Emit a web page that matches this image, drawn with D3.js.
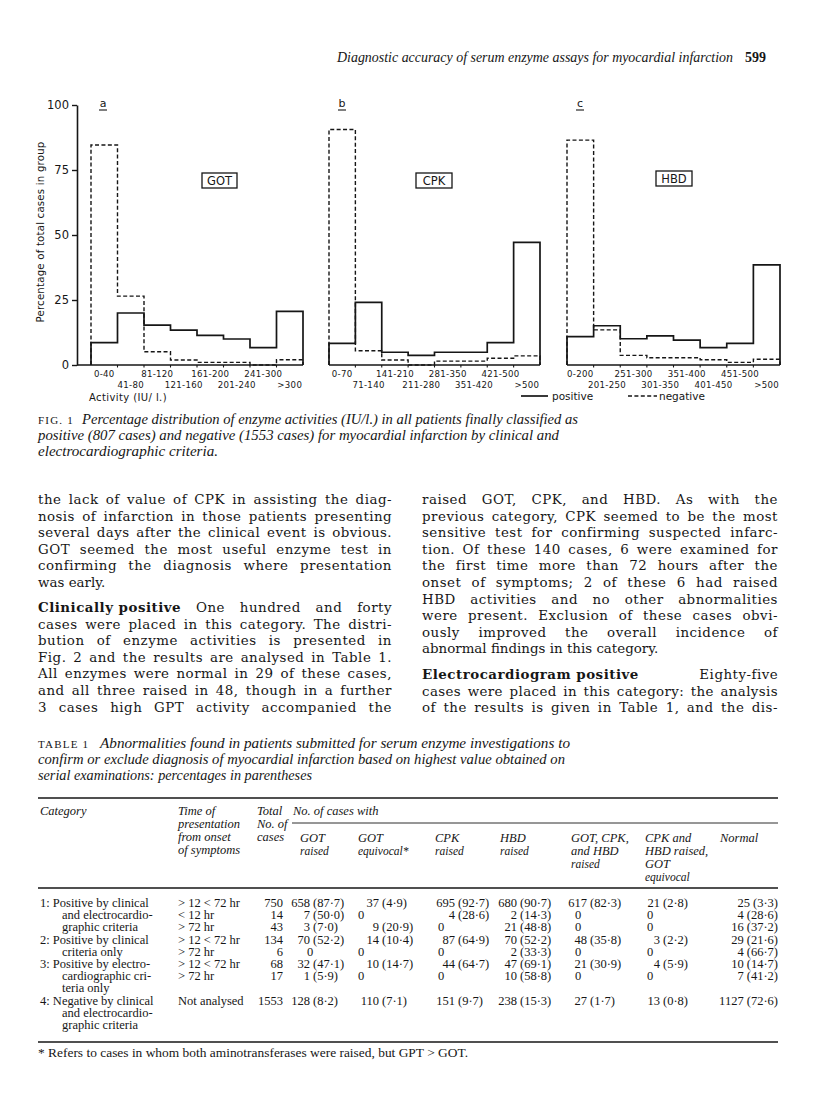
<!DOCTYPE html>
<html><head><meta charset="utf-8">
<script src="https://cdn.jsdelivr.net/npm/d3@7"></script>
<style>
html,body{margin:0;padding:0;background:#fff;}
svg{display:block;}
</style></head>
<body>
<script>
// ---------------- DATA ----------------
const gotBins = ["0-40","41-80","81-120","121-160","161-200","201-240","241-300",">300"];
const gotPositive = [8.6, 20.0, 15.3, 13.4, 11.4, 10.0, 6.7, 20.6];
const gotNegative = [84.6, 26.5, 5.1, 1.9, 1.0, 1.0, 0, 2.0];

const cpkBins = ["0-70","71-140","141-210","211-280","281-350","351-420","421-500",">500"];
const cpkPositive = [8.3, 24.1, 4.9, 3.7, 4.9, 4.9, 8.6, 47.2];
const cpkNegative = [90.6, 5.5, 1.9, 0, 1.5, 1.5, 2.6, 3.5];

const hbdBins = ["0-200","201-250","251-300","301-350","351-400","401-450","451-500",">500"];
const hbdPositive = [10.9, 15.1, 10.1, 11.2, 9.6, 6.7, 8.3, 38.5];
const hbdNegative = [86.5, 13.5, 3.7, 2.8, 2.8, 2.0, 1.0, 2.2];

const yTicks = [0, 25, 50, 75, 100];
const panelNames = ["GOT", "CPK", "HBD"];
const panelLetters = ["a", "b", "c"];

// Table 1
const tableColumns = ["GOT raised","GOT equivocal*","CPK raised","HBD raised","GOT, CPK, and HBD raised","CPK and HBD raised, GOT equivocal","Normal"];
const tableCategories = [
  ["1: Positive by clinical","and electrocardio-","graphic criteria"],
  ["2: Positive by clinical","criteria only"],
  ["3: Positive by electro-","cardiographic cri-","teria only"],
  ["4: Negative by clinical","and electrocardio-","graphic criteria"]
];
const tableTimes = [["> 12 < 72 hr","< 12 hr","> 72 hr"],["> 12 < 72 hr","> 72 hr"],["> 12 < 72 hr","> 72 hr"],["Not analysed"]];
const tableTotals = [[750,14,43],[134,6],[68,17],[1553]];
// each cell: [count, percent] or 0
const tableCells = [
  [
    [[658,"87·7"],[37,"4·9"],[695,"92·7"],[680,"90·7"],[617,"82·3"],[21,"2·8"],[25,"3·3"]],
    [[7,"50·0"],0,[4,"28·6"],[2,"14·3"],0,0,[4,"28·6"]],
    [[3,"7·0"],[9,"20·9"],0,[21,"48·8"],0,0,[16,"37·2"]]
  ],
  [
    [[70,"52·2"],[14,"10·4"],[87,"64·9"],[70,"52·2"],[48,"35·8"],[3,"2·2"],[29,"21·6"]],
    [0,0,0,[2,"33·3"],0,0,[4,"66·7"]]
  ],
  [
    [[32,"47·1"],[10,"14·7"],[44,"64·7"],[47,"69·1"],[21,"30·9"],[4,"5·9"],[10,"14·7"]],
    [[1,"5·9"],0,0,[10,"58·8"],0,0,[7,"41·2"]]
  ],
  [
    [[128,"8·2"],[110,"7·1"],[151,"9·7"],[238,"15·3"],[27,"1·7"],[13,"0·8"],[1127,"72·6"]]
  ]
];

// Text
const headerText = "Diagnostic accuracy of serum enzyme assays for myocardial infarction";
const pageNumber = "599";
const figCaption = [
  "Percentage distribution of enzyme activities (IU/l.) in all patients finally classified as",
  "positive (807 cases) and negative (1553 cases) for myocardial infarction by clinical and",
  "electrocardiographic criteria."
];
const leftColumn = [
  ["the lack of value of CPK in assisting the diag-", 0],
  ["nosis of infarction in those patients presenting", 0],
  ["several days after the clinical event is obvious.", 0],
  ["GOT seemed the most useful enzyme test in", 0],
  ["confirming the diagnosis where presentation", 0],
  ["was early.", 1],
  ["**Clinically positive** One hundred and forty", 0],
  ["cases were placed in this category. The distri-", 0],
  ["bution of enzyme activities is presented in", 0],
  ["Fig. 2 and the results are analysed in Table 1.", 0],
  ["All enzymes were normal in 29 of these cases,", 0],
  ["and all three raised in 48, though in a further", 0],
  ["3 cases high GPT activity accompanied the", 0]
];
const rightColumn = [
  ["raised GOT, CPK, and HBD. As with the", 0],
  ["previous category, CPK seemed to be the most", 0],
  ["sensitive test for confirming suspected infarc-", 0],
  ["tion. Of these 140 cases, 6 were examined for", 0],
  ["the first time more than 72 hours after the", 0],
  ["onset of symptoms; 2 of these 6 had raised", 0],
  ["HBD activities and no other abnormalities", 0],
  ["were present. Exclusion of these cases obvi-", 0],
  ["ously improved the overall incidence of", 0],
  ["abnormal findings in this category.", 1],
  ["**Electrocardiogram positive** Eighty-five", 0],
  ["cases were placed in this category: the analysis", 0],
  ["of the results is given in Table 1, and the dis-", 0]
];
const tableCaption = [
  "Abnormalities found in patients submitted for serum enzyme investigations to",
  "confirm or exclude diagnosis of myocardial infarction based on highest value obtained on",
  "serial examinations: percentages in parentheses"
];
const footnote = "* Refers to cases in whom both aminotransferases were raised, but GPT > GOT.";

// ---------------- DRAW ----------------
const W = 816, H = 1116;
const INK = "#161616";
const SERIF = "'Liberation Serif', 'Times New Roman', serif";
const BODYFONT = "'DejaVu Serif', 'Liberation Serif', serif";
const SANS = "'DejaVu Sans', Verdana, sans-serif";

const svg = d3.select("body").append("svg").attr("width", W).attr("height", H);
svg.append("rect").attr("width", W).attr("height", H).attr("fill", "#fff");

// Header
svg.append("text").attr("x", 337).attr("y", 62).attr("font-family", SERIF).attr("font-style","italic")
  .attr("font-size", 14).attr("fill", INK).attr("textLength", 396).attr("lengthAdjust","spacingAndGlyphs").text(headerText);
svg.append("text").attr("x", 745).attr("y", 62).attr("font-family", SERIF).attr("font-weight","bold")
  .attr("font-size", 14).attr("fill", INK).text(pageNumber);

// Chart
const y = d3.scaleLinear().domain([0, 100]).range([365, 105]);
const panels = [
  {bins: gotBins, pos: gotPositive, neg: gotNegative, x0: 91, x1: 303, base0: 77, letterX: 103, box: [202, 173, 35, 15]},
  {bins: cpkBins, pos: cpkPositive, neg: cpkNegative, x0: 329, x1: 540, base0: 329, letterX: 342, box: [416, 173, 36, 15]},
  {bins: hbdBins, pos: hbdPositive, neg: hbdNegative, x0: 567, x1: 780, base0: 567, letterX: 580, box: [656, 171, 36, 15]}
];

const stepLine = d3.line().x(d => d[0]).y(d => d[1]).curve(d3.curveStepAfter);

panels.forEach((p, pi) => {
  const g = svg.append("g");
  const x = d3.scaleLinear().domain([0, p.bins.length]).range([p.x0, p.x1]);
  const n = p.bins.length;
  function pts(vals) {
    const a = [[x(0), y(0)]];
    vals.forEach((v, i) => a.push([x(i), y(v)]));
    a.push([x(n), y(vals[n - 1])]);
    a.push([x(n), y(0)]);
    return a;
  }
  g.append("line").attr("x1", p.base0).attr("x2", x(n)).attr("y1", y(0)).attr("y2", y(0))
    .attr("stroke", INK).attr("stroke-width", 1.6);
  d3.range(1, n).forEach(i => {
    g.append("line").attr("x1", x(i)).attr("x2", x(i)).attr("y1", y(0)).attr("y2", y(0) + 2.5)
      .attr("stroke", INK).attr("stroke-width", 1.1);
  });
  g.append("path").attr("d", stepLine(pts(p.neg))).attr("fill", "none").attr("stroke", INK)
    .attr("stroke-width", 1.4).attr("stroke-dasharray", "4,2.4");
  g.append("path").attr("d", stepLine(pts(p.pos))).attr("fill", "none").attr("stroke", INK)
    .attr("stroke-width", 1.7);
  p.bins.forEach((b, i) => {
    g.append("text").attr("x", (x(i) + x(i + 1)) / 2).attr("y", i % 2 === 0 ? 377 : 388)
      .attr("text-anchor", "middle").attr("font-family", SANS).attr("font-size", 8.6)
      .attr("letter-spacing", 0.3).attr("fill", INK).text(b);
  });
  g.append("text").attr("x", p.letterX).attr("y", 107).attr("text-anchor", "middle")
    .attr("font-family", SANS).attr("font-size", 11).attr("fill", INK).text(panelLetters[pi]);
  g.append("line").attr("x1", p.letterX - 4).attr("x2", p.letterX + 4).attr("y1", 110).attr("y2", 110)
    .attr("stroke", INK).attr("stroke-width", 1.1);
  g.append("rect").attr("x", p.box[0]).attr("y", p.box[1]).attr("width", p.box[2]).attr("height", p.box[3])
    .attr("fill", "none").attr("stroke", INK).attr("stroke-width", 1.3);
  g.append("text").attr("x", p.box[0] + p.box[2] / 2).attr("y", p.box[1] + p.box[3] - 3.2).attr("text-anchor", "middle")
    .attr("font-family", SANS).attr("font-size", 11.5).attr("fill", INK).text(panelNames[pi]);
});

// Y axis (panel a)
const yAxis = d3.axisLeft(y).tickValues(yTicks).tickSize(5).tickSizeOuter(0).tickPadding(3);
const ya = svg.append("g").attr("transform", "translate(77,0)").call(yAxis);
ya.select(".domain").attr("stroke", INK).attr("stroke-width", 1.6);
ya.selectAll(".tick line").attr("stroke", INK).attr("stroke-width", 1.4);
ya.selectAll(".tick text").attr("font-family", SANS).attr("font-size", 11.5).attr("fill", INK);
svg.append("text").attr("transform", "translate(44,232) rotate(-90)").attr("text-anchor", "middle")
  .attr("font-family", SANS).attr("font-size", 10.2).attr("fill", INK).attr("letter-spacing", 0.2)
  .text("Percentage of total cases in group");
svg.append("text").attr("x", 89).attr("y", 401).attr("font-family", SANS).attr("font-size", 10)
  .attr("letter-spacing", 0.4).attr("fill", INK).text("Activity  (IU/ l.)");

// Legend
svg.append("line").attr("x1", 521).attr("x2", 548).attr("y1", 396).attr("y2", 396).attr("stroke", INK).attr("stroke-width", 1.7);
svg.append("text").attr("x", 552).attr("y", 400).attr("font-family", SANS).attr("font-size", 10.5).attr("fill", INK).text("positive");
svg.append("line").attr("x1", 628).attr("x2", 657).attr("y1", 396).attr("y2", 396).attr("stroke", INK).attr("stroke-width", 1.4).attr("stroke-dasharray", "4,2.4");
svg.append("text").attr("x", 659).attr("y", 400).attr("font-family", SANS).attr("font-size", 10.5).attr("fill", INK).text("negative");

// Figure caption
svg.append("text").attr("x", 38).attr("y", 424).attr("font-family", SERIF).attr("font-size", 11)
  .attr("letter-spacing", 1.2).attr("fill", INK).text("FIG. 1");
const capX = [82, 38, 38];
const capW = [496, 521, 180];
figCaption.forEach((t, i) => {
  svg.append("text").attr("x", capX[i]).attr("y", 424 + i * 16).attr("font-family", SERIF)
    .attr("font-style", "italic").attr("font-size", 14).attr("fill", INK)
    .attr("textLength", capW[i]).attr("lengthAdjust", "spacingAndGlyphs").text(t);
});

// Justified body text
const BODY = 13.4;
function measure(txt, bold) {
  const t = svg.append("text").attr("font-family", BODYFONT).attr("font-size", BODY)
    .attr("font-weight", bold ? "bold" : "normal").text(txt);
  const w = t.node().getComputedTextLength();
  t.remove();
  return w;
}
function drawColumn(lines, x0, x1, baselines) {
  lines.forEach(([line, last], li) => {
    const tokens = [];
    const boldMatch = line.match(/^\*\*(.+?)\*\*\s*(.*)$/);
    let rest = line;
    if (boldMatch) { tokens.push({t: boldMatch[1], b: true}); rest = boldMatch[2]; }
    rest.split(" ").filter(s => s.length).forEach(s => tokens.push({t: s, b: false}));
    tokens.forEach(tk => { tk.w = measure(tk.t, tk.b); tk.n = tk.t.length; });
    const sumW = d3.sum(tokens, d => d.w);
    const nChars = d3.sum(tokens, d => d.n);
    const k = tokens.length;
    const avail = x1 - x0;
    let ls, gap;
    if (last) { ls = 0; gap = 4.3; }
    else {
      const extra = avail - (sumW + (k - 1) * 4.3);
      ls = Math.max(-0.35, Math.min(0.5, extra * 0.5 / nChars));
      gap = (avail - sumW - nChars * ls) / (k - 1);
    }
    let cx = x0;
    tokens.forEach(tk => {
      svg.append("text").attr("x", cx).attr("y", baselines[li]).attr("font-family", BODYFONT)
        .attr("font-size", BODY).attr("letter-spacing", ls)
        .attr("font-weight", tk.b ? "bold" : "normal").attr("fill", INK).text(tk.t);
      cx += tk.w + tk.n * ls + gap;
    });
  });
}
const LH = 16.6;
const leftBase = leftColumn.map((d, i) => i < 6 ? 504 + i * LH : 612 + (i - 6) * LH);
const rightBase = rightColumn.map((d, i) => i < 10 ? 504 + i * LH : 679 + (i - 10) * LH);
drawColumn(leftColumn, 38, 392, leftBase);
drawColumn(rightColumn, 422, 778, rightBase);

// Table caption
svg.append("text").attr("x", 38).attr("y", 748).attr("font-family", SERIF).attr("font-size", 11)
  .attr("letter-spacing", 1.2).attr("fill", INK).text("TABLE 1");
const tcX = [100, 38, 38];
const tcW = [470, 527, 274];
tableCaption.forEach((t, i) => {
  svg.append("text").attr("x", tcX[i]).attr("y", 748 + i * 16).attr("font-family", SERIF)
    .attr("font-style", "italic").attr("font-size", 14.5).attr("fill", INK)
    .attr("textLength", tcW[i]).attr("lengthAdjust", "spacingAndGlyphs").text(t);
});

// Table rules
function rule(x1, x2, yy, w) {
  svg.append("line").attr("x1", x1).attr("x2", x2).attr("y1", yy).attr("y2", yy).attr("stroke", INK).attr("stroke-width", w);
}
rule(38, 778, 798, 1.3);
rule(292, 778, 823, 0.9);
rule(38, 778, 888, 1.3);
rule(38, 778, 1042, 1.3);

// Table header
function tx(x, yy, t, opts = {}) {
  const e = svg.append("text").attr("x", x).attr("y", yy).attr("font-family", SERIF)
    .attr("font-size", opts.size || 12.5).attr("fill", INK).text(t);
  if (opts.italic) e.attr("font-style", "italic");
  if (opts.anchor) e.attr("text-anchor", opts.anchor);
  return e;
}
const H1 = 815, HL = 13;
tx(40, H1, "Category", {italic: true});
["Time of", "presentation", "from onset", "of symptoms"].forEach((t, i) => tx(178, H1 + i * HL, t, {italic: true}));
["Total", "No. of", "cases"].forEach((t, i) => tx(257, H1 + i * HL, t, {italic: true}));
tx(293, H1, "No. of cases with", {italic: true});
const subHeads = [["GOT", "raised"], ["GOT", "equivocal*"], ["CPK", "raised"], ["HBD", "raised"],
  ["GOT, CPK,", "and HBD", "raised"], ["CPK and", "HBD raised,", "GOT", "equivocal"], ["Normal"]];
const colX = [300, 358, 435, 500, 571, 645, 720];
subHeads.forEach((lines, c) => lines.forEach((t, i) => {
  const small = (i === lines.length - 1 && lines.length > 1 && c !== 4) || (c === 4 && i === 2);
  tx(colX[c], 842 + i * HL, t, {italic: true, size: small ? 11.5 : 12.5});
}));

// Table body
const anchorX = [313, 382, 458, 520, 590, 663, null];
const zeroX = [307, 358, 438, 520, 575, 647, 770];
const RH = 12.2;
let line = 0;
const B0 = 907;
tableCategories.forEach((cat, gi) => {
  const startLine = line;
  cat.forEach((t, i) => tx(i === 0 ? 40 : 62, B0 + (startLine + i) * RH, t, {size: 12.5}));
  tableTimes[gi].forEach((tm, ri) => {
    const yy = B0 + (startLine + ri) * RH;
    tx(178, yy, tm, {size: 12.5});
    tx(283, yy, String(tableTotals[gi][ri]), {size: 12.5, anchor: "end"});
    tableCells[gi][ri].forEach((cell, c) => {
      if (cell === 0) {
        tx(zeroX[c], yy, "0", {size: 12.5});
      } else if (c === 6) {
        tx(778, yy, cell[0] + " (" + cell[1] + ")", {size: 12.5, anchor: "end"});
      } else {
        tx(anchorX[c] - 3, yy, String(cell[0]), {size: 12.5, anchor: "end"});
        tx(anchorX[c], yy, "(" + cell[1] + ")", {size: 12.5});
      }
    });
  });
  line += Math.max(cat.length, tableTimes[gi].length);
});

// Footnote
tx(38, 1057, footnote, {size: 13}).attr("textLength", 430).attr("lengthAdjust", "spacingAndGlyphs");
</script>
</body></html>
